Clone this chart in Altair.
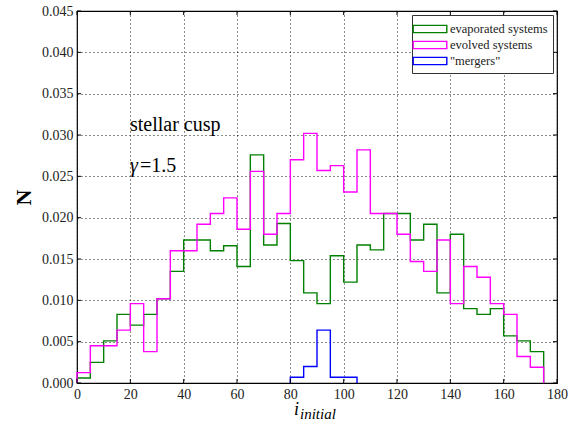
import altair as alt
import pandas as pd

# ---- data ----
bin_width = 5
evap_start = 0
evap = [0.0006, 0.0025, 0.0051, 0.0083, 0.0070, 0.0083, 0.0102, 0.0135, 0.0173, 0.0173,
        0.0160, 0.0166, 0.0141, 0.0276, 0.0167, 0.0193, 0.0148, 0.0109, 0.0096, 0.0154,
        0.0122, 0.0167, 0.0161, 0.0205, 0.0205, 0.0173, 0.0192, 0.0109, 0.0180, 0.0090,
        0.0083, 0.0090, 0.0057, 0.0051, 0.0038]
evol_start = 0
evol = [0.00125, 0.0045, 0.0045, 0.0064, 0.0096, 0.0038, 0.0102, 0.0160, 0.0160, 0.0192,
        0.0205, 0.0224, 0.0186, 0.0256, 0.0180, 0.0205, 0.0270, 0.0302, 0.0257, 0.0263,
        0.0231, 0.0282, 0.0205, 0.0205, 0.0180, 0.0147, 0.0135, 0.0173, 0.0096, 0.0141,
        0.0128, 0.0096, 0.0083, 0.0032, 0.0019]
merg_start = 80
merg = [0.0007, 0.0020, 0.0064, 0.0007, 0.0007]

series_names = ["evaporated systems", "evolved systems", "\"mergers\""]
series_colors = ["#008000", "#ff00ff", "#0000ff"]

x_ticks = list(range(0, 181, 20))
y_ticks = [round(i * 0.005, 3) for i in range(10)]

W, H = 480, 372
FONT = "Liberation Serif"


def step_rows(name, start, vals):
    rows = [{"series": name, "x": start, "y": 0.0}]
    for i, v in enumerate(vals):
        x0 = start + i * bin_width
        rows.append({"series": name, "x": x0, "y": v})
        rows.append({"series": name, "x": x0 + bin_width, "y": v})
    rows.append({"series": name, "x": start + len(vals) * bin_width, "y": 0.0})
    for k, r in enumerate(rows):
        r["idx"] = k
    return rows


rows = (step_rows(series_names[0], evap_start, evap)
        + step_rows(series_names[1], evol_start, evol)
        + step_rows(series_names[2], merg_start, merg))
df = pd.DataFrame(rows)

xs = alt.Scale(domain=[0, 180], nice=False, zero=False)
ys = alt.Scale(domain=[0, 0.045], nice=False, zero=False)

x_axis = alt.Axis(
    values=x_ticks, grid=True, gridDash=[1, 3], gridColor="black", gridOpacity=0.9,
    domain=False, ticks=False, labelFont=FONT, labelFontSize=14, labelColor="#222",
    labelPadding=4, title=None, labelFlush=False)
y_axis = alt.Axis(
    values=y_ticks, format=".3f", grid=True, gridDash=[1, 3], gridColor="black",
    gridOpacity=0.9, domain=False, ticks=False, labelFont=FONT, labelFontSize=14,
    labelColor="#222", labelPadding=4, title="N", titleFont=FONT, titleFontSize=22,
    titleFontWeight="bold", titleAngle=270, titleX=-54, titleY=H / 2,
    titleBaseline="middle", labelFlush=False)

lines = alt.Chart(df).mark_line(strokeWidth=1.4, interpolate="linear").encode(
    x=alt.X("x:Q", scale=xs, axis=x_axis),
    y=alt.Y("y:Q", scale=ys, axis=y_axis),
    order="idx:Q",
    detail="series:N",
    color=alt.Color("series:N", scale=alt.Scale(domain=series_names, range=series_colors),
                    legend=alt.Legend(
                        title=None, orient="top-right", offset=4,
                        symbolType="M-2.1,-0.45H2.1V0.45H-2.1Z", symbolSize=256,
                        symbolStrokeWidth=1.4, labelFont=FONT, labelFontSize=12.5,
                        labelColor="#222", strokeColor="#333", fillColor="white",
                        padding=5, rowPadding=0, labelOffset=11, symbolOffset=4,
                        cornerRadius=0)),
)

# inward ticks
xt = pd.DataFrame({"t": x_ticks})
yt = pd.DataFrame({"t": y_ticks})
tick_style = dict(color="black", strokeWidth=1)
xb = alt.Chart(xt).mark_rule(**tick_style).encode(x=alt.X("t:Q", scale=xs, axis=x_axis), y=alt.value(H), y2=alt.value(H - 4))
xtop = alt.Chart(xt).mark_rule(**tick_style).encode(x=alt.X("t:Q", scale=xs, axis=x_axis), y=alt.value(0), y2=alt.value(4))
yl = alt.Chart(yt).mark_rule(**tick_style).encode(y=alt.Y("t:Q", scale=ys, axis=y_axis), x=alt.value(0), x2=alt.value(4))
yr = alt.Chart(yt).mark_rule(**tick_style).encode(y=alt.Y("t:Q", scale=ys, axis=y_axis), x=alt.value(W), x2=alt.value(W - 4))

# annotations
ann = pd.DataFrame({"label": ["stellar cusp"]})
t1 = alt.Chart(ann).mark_text(font=FONT, fontSize=20, align="left", baseline="alphabetic", color="black").encode(
    x=alt.value(53), y=alt.value(120), text="label:N")
ann2 = pd.DataFrame({"a": ["γ"], "b": ["=1.5"]})
t2a = alt.Chart(ann2).mark_text(font=FONT, fontSize=20, fontStyle="italic", align="left", baseline="alphabetic", color="black").encode(
    x=alt.value(53), y=alt.value(161), text="a:N")
t2b = alt.Chart(ann2).mark_text(font=FONT, fontSize=20, align="left", baseline="alphabetic", color="black").encode(
    x=alt.value(63), y=alt.value(161), text="b:N")

# x axis title with subscript
xt_df = pd.DataFrame({"i": ["i"], "sub": ["initial"]})
xi = alt.Chart(xt_df).mark_text(font=FONT, fontSize=18, fontStyle="italic", align="left", baseline="alphabetic", color="black").encode(
    x=alt.value(217), y=alt.value(404), text="i:N")
xsub = alt.Chart(xt_df).mark_text(font=FONT, fontSize=15, fontStyle="italic", align="left", baseline="alphabetic", color="black").encode(
    x=alt.value(223), y=alt.value(408), text="sub:N")

chart = alt.layer(lines, xb, xtop, yl, yr, t1, t2a, t2b, xi, xsub).properties(
    width=W, height=H,
    autosize=alt.AutoSizeParams(type="none"),
    padding={"left": 77, "top": 11, "right": 29, "bottom": 40},
    background="white",
).configure_view(stroke="black", strokeWidth=1.2).configure_axis(
    labelFont=FONT, titleFont=FONT
).configure_legend(labelFont=FONT)

chart.save("out.html", embed_options={"renderer": "svg", "actions": False})
